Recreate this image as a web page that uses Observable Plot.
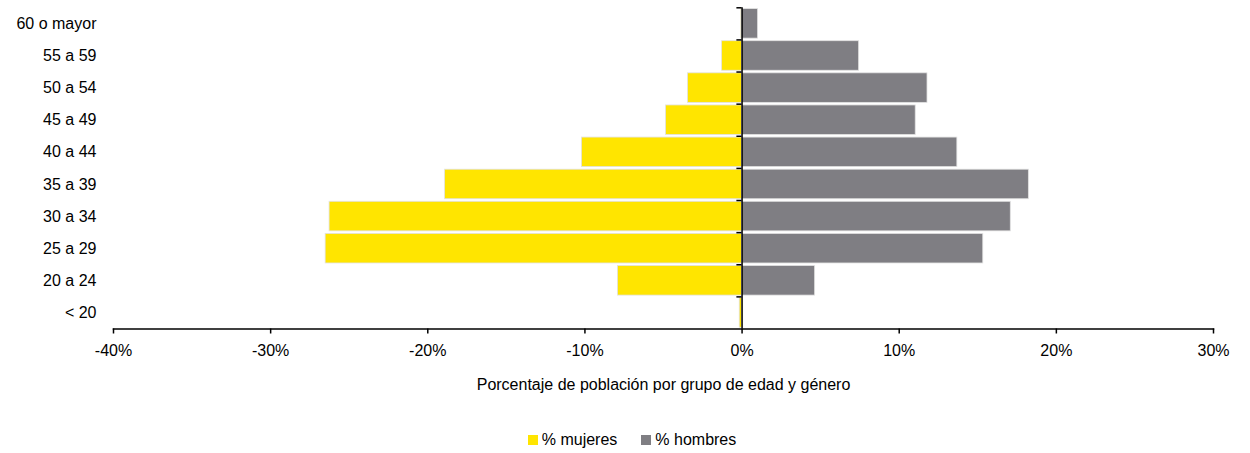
<!DOCTYPE html>
<html>
<head>
<meta charset="utf-8">
<script src="https://cdn.jsdelivr.net/npm/d3@7"></script>
<script src="https://cdn.jsdelivr.net/npm/@observablehq/plot@0.6"></script>
<style>
  html, body { margin: 0; padding: 0; background: #fff; }
  body { width: 1250px; height: 453px; overflow: hidden; font-family: "Liberation Sans", Arial, sans-serif; }
  #legend { position: absolute; top: 431px; left: 0; width: 1250px; display: flex; justify-content: center; gap: 0; font-size: 16px; color: #000; padding-left: 14px; box-sizing: border-box; }
  .item { display: flex; align-items: center; margin: 0 12px; }
  .sw { width: 10px; height: 10px; margin-right: 4px; }
</style>
</head>
<body>
<div id="chart"></div>
<div id="legend"></div>
<script>
const ages = ["60 o mayor", "55 a 59", "50 a 54", "45 a 49", "40 a 44", "35 a 39", "30 a 34", "25 a 29", "20 a 24", "< 20"];
const mujeres = [-0.05, -1.27, -3.44, -4.84, -10.19, -18.9, -26.25, -26.5, -7.9, -0.15];
const hombres = [1.02, 7.45, 11.8, 11.05, 13.7, 18.25, 17.1, 15.35, 4.65, 0];
const xTicks = [-40, -30, -20, -10, 0, 10, 20, 30];
const seriesNames = ["% mujeres", "% hombres"];
const seriesColors = ["#FFE500", "#7F7E83"];

const data = [];
ages.forEach((a, i) => {
  data.push({age: a, serie: seriesNames[0], value: mujeres[i]});
  data.push({age: a, serie: seriesNames[1], value: hombres[i]});
});

const H = 400, mTop = 7.3, mBottom = 71.5;
const step = (H - mTop - mBottom) / ages.length;

const chart = Plot.plot({
  width: 1250,
  height: H,
  marginLeft: 113,
  marginRight: 37,
  marginTop: mTop,
  marginBottom: mBottom,
  style: {fontFamily: "'Liberation Sans', Arial, sans-serif", fontSize: "16px", color: "#000", background: "#fff"},
  x: {domain: [-40, 30], ticks: xTicks},
  y: {domain: ages, paddingInner: 0.08, paddingOuter: 0.04, round: false},
  color: {domain: seriesNames, range: seriesColors},
  marks: [
    Plot.barX(data, {x: "value", y: "age", fill: "serie", stroke: "#e2e2e2", strokeWidth: 0.8}),
    Plot.frame({anchor: "bottom", stroke: "#000", strokeWidth: 1.5}),
    Plot.ruleX([0], {stroke: "#000", strokeWidth: 1.5}),
    Plot.ruleY(ages, {y: d => d, x1: -0.33, x2: 0, dy: -step / 2, stroke: "#000", strokeWidth: 1.5}),
    Plot.axisX({ticks: xTicks, tickFormat: d => d + "%", tickSize: 5, tickPadding: 10.5, stroke: "#000", strokeWidth: 1.5,
      label: "Porcentaje de población por grupo de edad y género", labelAnchor: "center", labelArrow: "none", labelOffset: 60.5}),
    Plot.axisY({tickSize: 0, tickPadding: 17, label: null})
  ]
});
document.getElementById("chart").appendChild(chart);

const lg = document.getElementById("legend");
seriesNames.forEach((n, i) => {
  const it = document.createElement("div");
  it.className = "item";
  const sw = document.createElement("span");
  sw.className = "sw";
  sw.style.background = seriesColors[i];
  const t = document.createElement("span");
  t.textContent = n;
  it.appendChild(sw); it.appendChild(t);
  lg.appendChild(it);
});
</script>
</body>
</html>
